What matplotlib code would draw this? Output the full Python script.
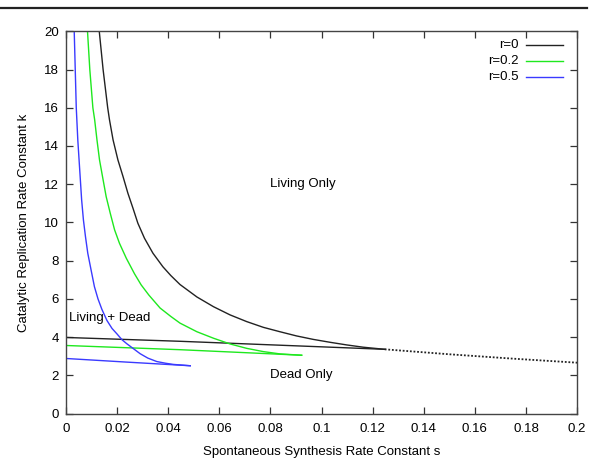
import matplotlib
matplotlib.use('Agg')
import matplotlib.pyplot as plt
from matplotlib.lines import Line2D

plt.rcParams['font.family'] = ['Liberation Sans', 'DejaVu Sans']

# upper (hyperbola-like) boundaries: s values and k values
s_up_r0 = [0.0130, 0.0145, 0.0163, 0.0170, 0.0184, 0.0203, 0.0223, 0.0242, 0.0262,
           0.0281, 0.0307, 0.0340, 0.0379, 0.0410, 0.0446, 0.0512, 0.0577, 0.0642, 0.0707,
           0.0772, 0.0837, 0.0902, 0.0967, 0.1032, 0.1098, 0.1163, 0.1247]
k_up_r0 = [20.0, 18.0, 16.0, 15.37, 14.32, 13.27, 12.40, 11.53, 10.74,
           9.96, 9.17, 8.39, 7.68, 7.22, 6.75, 6.10, 5.59, 5.16, 4.81,
           4.51, 4.28, 4.06, 3.88, 3.73, 3.59, 3.47, 3.36]

s_up_r02 = [0.0084, 0.0093, 0.0105, 0.0112, 0.0121, 0.0131, 0.0145, 0.0157, 0.0173,
            0.0190, 0.0209, 0.0236, 0.0268, 0.0294, 0.0324, 0.0368, 0.0410, 0.0446, 0.0512,
            0.0577, 0.0642, 0.0707, 0.0772, 0.0837, 0.0922]
k_up_r02 = [20.0, 18.0, 16.0, 15.37, 14.32, 13.27, 12.23, 11.35, 10.48,
            9.61, 8.91, 8.12, 7.31, 6.73, 6.20, 5.52, 5.08, 4.73, 4.28,
            3.94, 3.64, 3.41, 3.24, 3.12, 3.05]

s_up_r05 = [0.0032, 0.0036, 0.0040, 0.0046, 0.0051, 0.0056, 0.0061, 0.0068, 0.0076,
            0.0085, 0.0098, 0.0111, 0.0125, 0.0140, 0.0160, 0.0180, 0.0199, 0.0219, 0.0238,
            0.0290, 0.0320, 0.0355, 0.0390, 0.0420, 0.0486]
k_up_r05 = [20.0, 18.0, 16.0, 14.32, 13.27, 12.23, 11.18, 10.13, 9.26,
            8.39, 7.51, 6.64, 6.00, 5.46, 4.87, 4.45, 4.17, 3.86, 3.65,
            3.13, 2.90, 2.72, 2.63, 2.57, 2.50]

# lower (nearly straight) boundaries
s_lo_r0 = [0.0, 0.0446, 0.1247]
k_lo_r0 = [3.98, 3.78, 3.36]
s_lo_r02 = [0.0, 0.0446, 0.0922]
k_lo_r02 = [3.56, 3.34, 3.05]
s_lo_r05 = [0.0, 0.0238, 0.0486]
k_lo_r05 = [2.88, 2.69, 2.50]

# dotted continuation for r=0
s_dot = [0.1247, 0.150, 0.175, 0.200]
k_dot = [3.36, 3.10, 2.87, 2.66]

labels = ['r=0', 'r=0.2', 'r=0.5']
colors = ['#222222', '#1ee81e', '#3a3aff']

x_ticks = [0, 0.02, 0.04, 0.06, 0.08, 0.1, 0.12, 0.14, 0.16, 0.18, 0.2]
x_ticklabels = ['0', '0.02', '0.04', '0.06', '0.08', '0.1', '0.12', '0.14', '0.16', '0.18', '0.2']
y_ticks = list(range(0, 21, 2))

fig = plt.figure(figsize=(5.95, 4.61), dpi=100)
ax = fig.add_axes([0.111, 0.103, 0.859, 0.829])

curves = [(s_up_r0, k_up_r0, s_lo_r0, k_lo_r0),
          (s_up_r02, k_up_r02, s_lo_r02, k_lo_r02),
          (s_up_r05, k_up_r05, s_lo_r05, k_lo_r05)]
for (su, ku, sl, kl), c in zip(curves, colors):
    ax.plot(su, ku, color=c, lw=1.0)
    ax.plot(sl, kl, color=c, lw=1.0)
ax.plot(s_dot, k_dot, color='#222222', lw=1.3, linestyle=(0, (1, 1)))

ax.set_xlim(0, 0.2)
ax.set_ylim(0, 20)
ax.set_xticks(x_ticks)
ax.set_xticklabels(x_ticklabels)
ax.set_yticks(y_ticks)
ax.tick_params(direction='in', length=5, width=0.9, colors='#333333',
               labelcolor='black', labelsize=9.5, top=True, right=True)
ax.tick_params(axis='x', pad=7)
ax.tick_params(axis='y', pad=5)
for sp in ax.spines.values():
    sp.set_color('#444444')
    sp.set_linewidth(1.0)

ax.set_xlabel('Spontaneous Synthesis Rate Constant s', fontsize=9.5, labelpad=8)
ax.set_ylabel('Catalytic Replication Rate Constant k', fontsize=9.5, labelpad=10)

# region labels
ax.text(0.08, 12, 'Living Only', fontsize=9.5, ha='left', va='center')
ax.text(0.001, 5, 'Living + Dead', fontsize=9.5, ha='left', va='center')
ax.text(0.08, 2, 'Dead Only', fontsize=9.5, ha='left', va='center')

# gnuplot-style key: right-justified text, sample line to its right
for i, (lab, c) in enumerate(zip(labels, colors)):
    yk = 0.965 - i * 0.042
    ax.text(0.886, yk, lab, transform=ax.transAxes, fontsize=9.5, ha='right', va='center')
    ax.add_line(Line2D([0.900, 0.972], [yk, yk], transform=ax.transAxes, color=c, lw=1.0))

# rule across the top of the page
fig.add_artist(Line2D([0.0, 0.987], [1 - 8.3 / 461] * 2, color='#222222', lw=1.6))

fig.savefig('out.png', dpi=100)
